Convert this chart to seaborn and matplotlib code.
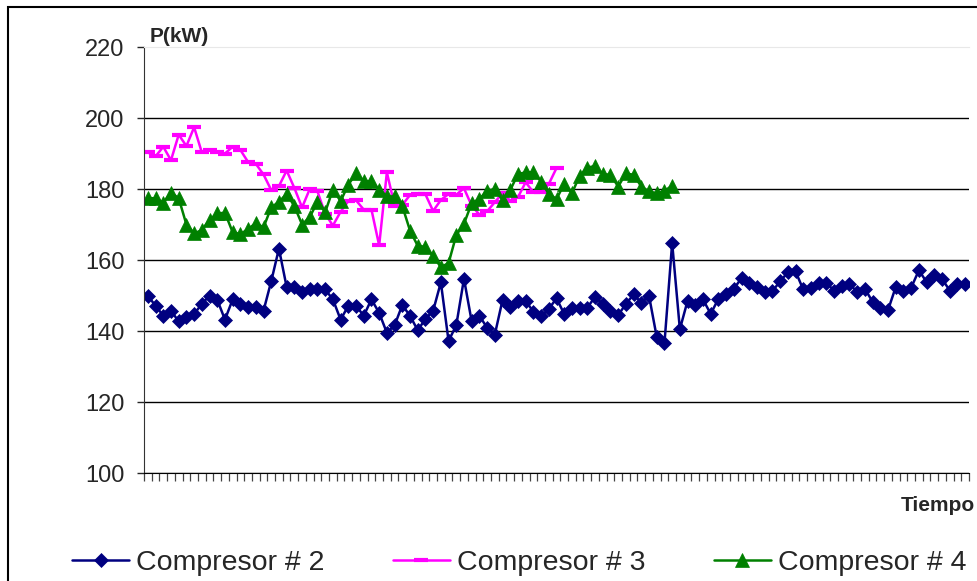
import numpy as np
import pandas as pd
import matplotlib
matplotlib.use("Agg")
import matplotlib.pyplot as plt
import seaborn as sns
from matplotlib.patches import Rectangle
from matplotlib.ticker import FixedLocator, NullLocator

# Power readings (kW), one per time step
comp2 = [149.9, 147.1, 144.3, 145.7, 142.7, 143.9, 144.8, 147.6, 150.0, 148.8,
         143.2, 148.9, 147.6, 146.9, 146.9, 145.7, 154.0, 163.2, 152.4, 152.4,
         151.1, 151.7, 151.9, 151.7, 148.9, 143.2, 147.1, 147.1, 144.3, 148.9,
         145.1, 139.5, 141.6, 147.3, 144.3, 140.2, 143.4, 145.7, 153.7, 137.2,
         141.6, 154.7, 142.7, 144.3, 140.9, 139.0, 148.7, 146.9, 148.5, 148.5,
         145.4, 144.1, 146.2, 149.2, 144.8, 146.4, 146.4, 146.6, 149.6, 147.6,
         145.7, 144.5, 147.6, 150.3, 148.0, 149.9, 138.3, 136.5, 164.8, 140.5,
         148.5, 147.3, 148.9, 144.8, 149.1, 150.3, 151.9, 154.9, 153.4, 152.4,
         151.0, 151.2, 154.0, 156.5, 156.8, 151.7, 152.2, 153.5, 153.5, 151.4,
         152.6, 153.1, 151.1, 151.9, 148.2, 146.4, 145.9, 152.4, 151.2, 152.2,
         157.1, 153.8, 155.9, 154.7, 151.4, 153.1, 153.1]
comp3 = [190.3, 189.2, 191.9, 188.1, 195.3, 192.1, 197.4, 190.3, 191.1, 190.3,
         190.0, 191.9, 191.0, 187.6, 187.1, 184.1, 179.7, 180.8, 185.2, 180.3,
         174.8, 180.0, 179.3, 173.0, 169.7, 173.6, 176.6, 176.8, 174.2, 174.2,
         164.1, 184.7, 175.3, 175.5, 178.3, 178.5, 178.5, 173.8, 176.9, 178.6,
         178.4, 180.2, 175.3, 172.8, 173.7, 176.3, 178.8, 176.7, 177.7, 181.9,
         179.1, 179.1, 181.4, 185.9]
comp4 = [177.4, 177.4, 176.1, 179.0, 177.4, 170.0, 167.5, 168.4, 171.3, 173.1,
         173.3, 167.8, 167.3, 168.7, 170.4, 169.2, 174.8, 176.4, 178.6, 175.2,
         170.0, 172.1, 176.4, 173.5, 179.8, 176.6, 181.2, 184.4, 182.2, 182.2,
         179.8, 177.9, 177.9, 175.2, 168.3, 164.0, 163.7, 161.1, 158.0, 159.1,
         167.0, 170.2, 176.0, 177.2, 179.5, 180.0, 176.9, 179.7, 184.2, 184.7,
         184.7, 182.1, 178.6, 177.2, 181.4, 178.8, 183.7, 186.0, 186.5, 184.2,
         184.0, 180.7, 184.4, 184.0, 180.7, 179.3, 178.8, 179.5, 180.9]

series_names = ["Compresor # 2", "Compresor # 3", "Compresor # 4"]
y_ticks = [100, 120, 140, 160, 180, 200, 220]

sns.set_style("white")
plt.rcParams['font.family'] = ['Liberation Sans', 'DejaVu Sans']

fig = plt.figure(figsize=(9.78, 5.81), dpi=100)
ax = fig.add_axes([144 / 978, 1 - 473 / 581, (969 - 144) / 978, (473 - 47) / 581])

styles = [
    dict(color='#000080', marker='D', markersize=7.5, markeredgewidth=0.5,
         markeredgecolor='#000080'),
    dict(color='#FF00FF', marker='_', markersize=10, markeredgewidth=3,
         markeredgecolor='#FF00FF'),
    dict(color='#008000', marker='^', markersize=10, markeredgewidth=0.5,
         markeredgecolor='#008000'),
]
for vals, name, st in zip([comp2, comp3, comp4], series_names, styles):
    x = np.arange(1, len(vals) + 1)
    sns.lineplot(x=x, y=vals, ax=ax, label=name, linewidth=1.8, **st)

n = len(comp2)
ax.set_xlim(0.5, n + 0.5)
ax.set_ylim(100, 220)
ax.set_yticks(y_ticks)
ax.tick_params(axis='y', labelsize=17, length=5, width=1, direction='out', pad=9, left=True)
ax.xaxis.set_major_locator(NullLocator())
ax.xaxis.set_minor_locator(FixedLocator(np.arange(0.5, n + 1.0, 1.0)))
ax.tick_params(axis='x', which='minor', length=6, width=0.9, color='#444444', direction='out', bottom=True)

ax.grid(axis='y', color='black', linewidth=1)
ax.get_ygridlines()[-1].set_visible(False)
ax.set_axisbelow(True)
ax.spines['right'].set_visible(False)
ax.spines['top'].set_color('#e8e8e8')
ax.spines['left'].set_color('#333333')
ax.spines['bottom'].set_color('black')
ax.set_xlabel("")
ax.set_ylabel("")

fig.text(150 / 978, 1 - 42 / 581, "P(kW)", fontsize=15, fontweight='bold', va='baseline')
fig.text(975 / 978, 1 - 511 / 581, "Tiempo", fontsize=15, fontweight='bold', va='baseline', ha='right')

ax.get_legend().remove()
handles, labels = ax.get_legend_handles_labels()
fig.legend(handles, labels, loc='lower center', bbox_to_anchor=(0.531, -0.035), ncol=3,
           frameon=False, fontsize=20.5, handlelength=2.0, columnspacing=2.4, handletextpad=0.25)

fig.patches.append(Rectangle((8 / 978, -0.1), 1.2, 1 - 7 / 581 + 0.1, transform=fig.transFigure,
                             fill=False, edgecolor='black', linewidth=1.5))

fig.savefig("out.png", dpi=100)
